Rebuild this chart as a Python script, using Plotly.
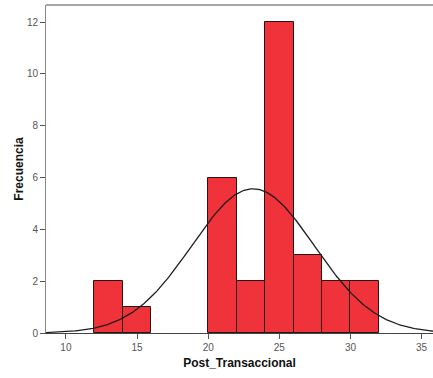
import numpy as np
import plotly.graph_objects as go

bin_left = [12, 14, 20, 22, 24, 26, 28, 30]
counts = [2, 1, 6, 2, 12, 3, 2, 2]
bin_width = 2
n_total = 30
mean_val = 23.15
sd_val = 4.30
x_ticks = [10, 15, 20, 25, 30, 35]
y_ticks = [0, 2, 4, 6, 8, 10, 12]

centers = [b + bin_width / 2 for b in bin_left]
xs = np.linspace(8.6, 36, 300)
ys = n_total * bin_width / (sd_val * np.sqrt(2 * np.pi)) * np.exp(-0.5 * ((xs - mean_val) / sd_val) ** 2)

fig = go.Figure()
fig.add_trace(go.Bar(x=centers, y=counts, width=[bin_width] * len(centers),
                     marker=dict(color="rgb(240,50,58)", line=dict(color="rgb(40,20,20)", width=1)),
                     hoverinfo="skip"))
fig.add_trace(go.Scatter(x=xs, y=ys, mode="lines", line=dict(color="rgb(30,30,30)", width=1.3),
                         hoverinfo="skip"))

fig.update_layout(
    width=433, height=378,
    margin=dict(l=46, r=0, t=5, b=45),
    paper_bgcolor="white", plot_bgcolor="white",
    showlegend=False, bargap=0,
    font=dict(family="Liberation Sans, Arial, sans-serif", color="#444"),
    xaxis=dict(range=[8.6, 35.8], tickvals=x_ticks, ticks="outside", ticklen=5, tickcolor="#555",
               showgrid=False, zeroline=False, showline=True, linecolor="#444", linewidth=1,
               tickfont=dict(size=10, color="#555"),
               title=dict(text="<b>Post_Transaccional</b>", font=dict(size=12, color="#111"), standoff=6)),
    yaxis=dict(range=[0, 12.66], tickvals=y_ticks, ticks="outside", ticklen=5, tickcolor="#555",
               showgrid=False, zeroline=False, showline=True, linecolor="#888", linewidth=1,
               tickfont=dict(size=10, color="#555"),
               title=dict(text="<b>Frecuencia</b>", font=dict(size=12, color="#111"), standoff=0)),
    shapes=[dict(type="line", xref="paper", yref="paper", x0=0, x1=1, y0=1, y1=1,
                 line=dict(color="#888", width=1.5))],
)
fig.write_html("out.html")
